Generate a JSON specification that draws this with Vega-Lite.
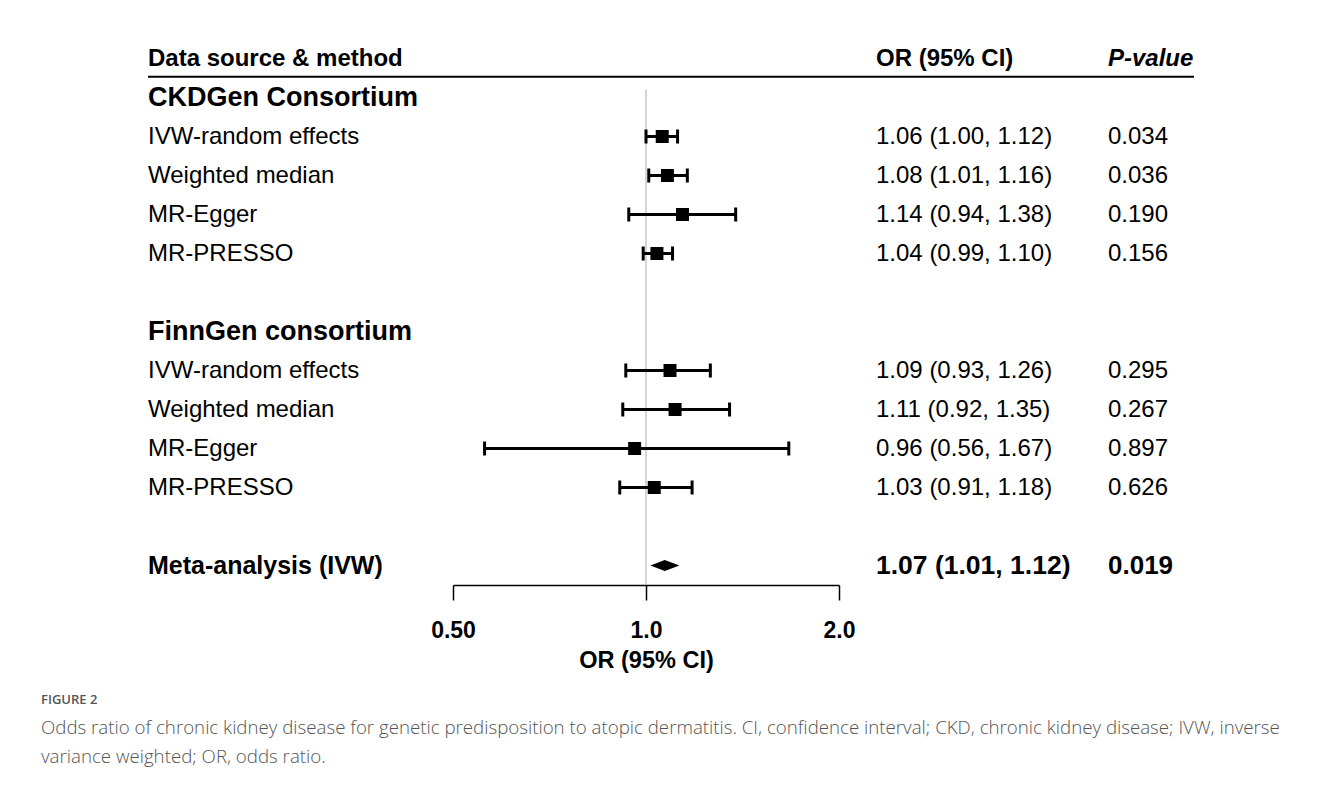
{
  "$schema": "https://vega.github.io/schema/vega-lite/v6.json",
  "padding": {"left": 41, "top": 39, "right": 0, "bottom": 0},
  "background": "white",
  "bounds": "flush",
  "spacing": 0,
  "datasets": {
    "rows": [
      {"row": 0, "kind": "header", "label": "Data source & method", "orText": "OR (95% CI)", "p": "P-value"},
      {"row": 1, "kind": "group", "label": "CKDGen Consortium"},
      {"row": 2, "kind": "item", "label": "IVW-random effects", "or": 1.06, "lo": 1.00, "hi": 1.12, "orText": "1.06 (1.00, 1.12)", "p": "0.034"},
      {"row": 3, "kind": "item", "label": "Weighted median", "or": 1.08, "lo": 1.01, "hi": 1.16, "orText": "1.08 (1.01, 1.16)", "p": "0.036"},
      {"row": 4, "kind": "item", "label": "MR-Egger", "or": 1.14, "lo": 0.94, "hi": 1.38, "orText": "1.14 (0.94, 1.38)", "p": "0.190"},
      {"row": 5, "kind": "item", "label": "MR-PRESSO", "or": 1.04, "lo": 0.99, "hi": 1.10, "orText": "1.04 (0.99, 1.10)", "p": "0.156"},
      {"row": 7, "kind": "group", "label": "FinnGen consortium"},
      {"row": 8, "kind": "item", "label": "IVW-random effects", "or": 1.09, "lo": 0.93, "hi": 1.26, "orText": "1.09 (0.93, 1.26)", "p": "0.295"},
      {"row": 9, "kind": "item", "label": "Weighted median", "or": 1.11, "lo": 0.92, "hi": 1.35, "orText": "1.11 (0.92, 1.35)", "p": "0.267"},
      {"row": 10, "kind": "item", "label": "MR-Egger", "or": 0.96, "lo": 0.56, "hi": 1.67, "orText": "0.96 (0.56, 1.67)", "p": "0.897"},
      {"row": 11, "kind": "item", "label": "MR-PRESSO", "or": 1.03, "lo": 0.91, "hi": 1.18, "orText": "1.03 (0.91, 1.18)", "p": "0.626"},
      {"row": 13, "kind": "meta", "label": "Meta-analysis (IVW)", "or": 1.07, "lo": 1.01, "hi": 1.12, "orText": "1.07 (1.01, 1.12)", "p": "0.019"}
    ]
  },
  "data": {"name": "rows"},
  "title": {
    "text": "FIGURE 2",
    "subtitle": [
      "Odds ratio of chronic kidney disease for genetic predisposition to atopic dermatitis. CI, confidence interval; CKD, chronic kidney disease; IVW, inverse",
      "variance weighted; OR, odds ratio."
    ],
    "orient": "bottom",
    "anchor": "start",
    "frame": "bounds",
    "dx": -106,
    "offset": 22,
    "font": "Liberation Sans Narrow, Open Sans",
    "fontSize": 13,
    "fontWeight": 600,
    "color": "#555555",
    "subtitleFont": "Open Sans",
    "subtitleFontSize": 18.7,
    "subtitleFontWeight": 300,
    "subtitleColor": "#555555",
    "subtitleLineHeight": 29,
    "subtitlePadding": 12
  },
  "hconcat": [
    {
      "width": 305,
      "height": 546,
      "layer": [
        {
          "transform": [{"filter": "datum.kind === 'header'"}],
          "mark": {"type": "rule", "color": "#000000", "strokeWidth": 2},
          "encoding": {"y": {"datum": 0.47, "type": "quantitative", "scale": {"domain": [-0.5, 13.5], "reverse": true, "nice": false, "zero": false}, "axis": null}}
        },
        {
          "transform": [{"filter": "datum.kind === 'header'"}],
          "mark": {"type": "text", "x": 0, "align": "left", "baseline": "middle", "font": "Liberation Sans", "fontWeight": "bold", "fontSize": 24, "color": "#000000"},
          "encoding": {"y": {"field": "row", "type": "quantitative", "axis": null}, "text": {"field": "label"}}
        },
        {
          "transform": [{"filter": "datum.kind === 'group'"}],
          "mark": {"type": "text", "x": 0, "align": "left", "baseline": "middle", "font": "Liberation Sans", "fontWeight": "bold", "fontSize": 27, "color": "#000000"},
          "encoding": {"y": {"field": "row", "type": "quantitative", "axis": null}, "text": {"field": "label"}}
        },
        {
          "transform": [{"filter": "datum.kind === 'item'"}],
          "mark": {"type": "text", "x": 0, "align": "left", "baseline": "middle", "font": "Liberation Sans", "fontSize": 24, "color": "#000000"},
          "encoding": {"y": {"field": "row", "type": "quantitative", "axis": null}, "text": {"field": "label"}}
        },
        {
          "transform": [{"filter": "datum.kind === 'meta'"}],
          "mark": {"type": "text", "x": 0, "align": "left", "baseline": "middle", "font": "Liberation Sans", "fontWeight": "bold", "fontSize": 25, "color": "#000000"},
          "encoding": {"y": {"field": "row", "type": "quantitative", "axis": null}, "text": {"field": "label"}}
        }
      ]
    },
    {
      "width": 386,
      "height": 546,
      "layer": [
        {
          "transform": [{"filter": "datum.kind === 'header'"}],
          "mark": {"type": "rule", "color": "#000000", "strokeWidth": 2},
          "encoding": {"y": {"datum": 0.47, "type": "quantitative", "scale": {"domain": [-0.5, 13.5], "reverse": true, "nice": false, "zero": false}, "axis": null}}
        },
        {
          "transform": [{"filter": "datum.kind === 'header'"}],
          "mark": {"type": "rule", "color": "#aaaaaa", "strokeWidth": 1},
          "encoding": {
            "x": {"datum": 1, "type": "quantitative",
              "scale": {"type": "log", "domain": [0.5, 2], "nice": false, "zero": false},
              "axis": {"values": [0.5, 1, 2], "labelExpr": "datum.value == 0.5 ? '0.50' : format(datum.value, '.1f')", "title": "OR (95% CI)", "grid": false, "domainColor": "#000000", "domainWidth": 1.5, "tickColor": "#000000", "tickWidth": 1.5, "tickSize": 15, "labelFont": "Liberation Sans", "labelFontWeight": "bold", "labelFontSize": 23, "labelColor": "#000000", "labelPadding": 19, "labelFlush": false, "labelOverlap": false, "titleFont": "Liberation Sans", "titleFontWeight": "bold", "titleFontSize": 23.5, "titleColor": "#000000", "titlePadding": 6}},
            "y": {"datum": 0.8, "type": "quantitative", "axis": null},
            "y2": {"datum": 13.5}
          }
        },
        {
          "transform": [{"filter": "datum.kind === 'item'"}],
          "mark": {"type": "rule", "color": "#000000", "strokeWidth": 3},
          "encoding": {
            "x": {"field": "lo", "type": "quantitative", "title": "OR (95% CI)"},
            "x2": {"field": "hi"},
            "y": {"field": "row", "type": "quantitative", "axis": null}
          }
        },
        {
          "transform": [{"filter": "datum.kind === 'item'"}],
          "mark": {"type": "tick", "orient": "vertical", "color": "#000000", "size": 14, "thickness": 3, "opacity": 1},
          "encoding": {
            "x": {"field": "lo", "type": "quantitative", "title": "OR (95% CI)"},
            "y": {"field": "row", "type": "quantitative", "axis": null}
          }
        },
        {
          "transform": [{"filter": "datum.kind === 'item'"}],
          "mark": {"type": "tick", "orient": "vertical", "color": "#000000", "size": 14, "thickness": 3, "opacity": 1},
          "encoding": {
            "x": {"field": "hi", "type": "quantitative", "title": "OR (95% CI)"},
            "y": {"field": "row", "type": "quantitative", "axis": null}
          }
        },
        {
          "transform": [{"filter": "datum.kind === 'item'"}],
          "mark": {"type": "point", "shape": "square", "filled": true, "color": "#000000", "size": 169, "opacity": 1},
          "encoding": {
            "x": {"field": "or", "type": "quantitative", "title": "OR (95% CI)"},
            "y": {"field": "row", "type": "quantitative", "axis": null}
          }
        },
        {
          "transform": [{"filter": "datum.kind === 'meta'"}],
          "mark": {"type": "point", "shape": "M-1,0L0,-0.38L1,0L0,0.38Z", "filled": true, "color": "#000000", "size": 841, "opacity": 1},
          "encoding": {
            "x": {"field": "or", "type": "quantitative", "title": "OR (95% CI)"},
            "y": {"field": "row", "type": "quantitative", "axis": null}
          }
        }
      ]
    },
    {
      "width": 269,
      "height": 546,
      "layer": [
        {
          "transform": [{"filter": "datum.kind === 'header'"}],
          "mark": {"type": "rule", "color": "#000000", "strokeWidth": 2},
          "encoding": {"y": {"datum": 0.47, "type": "quantitative", "scale": {"domain": [-0.5, 13.5], "reverse": true, "nice": false, "zero": false}, "axis": null}}
        },
        {
          "transform": [{"filter": "datum.kind === 'header'"}],
          "mark": {"type": "text", "x": 0, "dx": 37, "align": "left", "baseline": "middle", "font": "Liberation Sans", "fontWeight": "bold", "fontSize": 24, "color": "#000000"},
          "encoding": {"y": {"field": "row", "type": "quantitative", "axis": null}, "text": {"field": "orText"}}
        },
        {
          "transform": [{"filter": "datum.kind === 'item'"}],
          "mark": {"type": "text", "x": 0, "dx": 37, "align": "left", "baseline": "middle", "font": "Liberation Sans", "fontSize": 24, "color": "#000000"},
          "encoding": {"y": {"field": "row", "type": "quantitative", "axis": null}, "text": {"field": "orText"}}
        },
        {
          "transform": [{"filter": "datum.kind === 'meta'"}],
          "mark": {"type": "text", "x": 0, "dx": 37, "align": "left", "baseline": "middle", "font": "Liberation Sans", "fontWeight": "bold", "fontSize": 26.5, "color": "#000000"},
          "encoding": {"y": {"field": "row", "type": "quantitative", "axis": null}, "text": {"field": "orText"}}
        }
      ]
    },
    {
      "width": 86,
      "height": 546,
      "layer": [
        {
          "transform": [{"filter": "datum.kind === 'header'"}],
          "mark": {"type": "rule", "color": "#000000", "strokeWidth": 2},
          "encoding": {"y": {"datum": 0.47, "type": "quantitative", "scale": {"domain": [-0.5, 13.5], "reverse": true, "nice": false, "zero": false}, "axis": null}}
        },
        {
          "transform": [{"filter": "datum.kind === 'header'"}],
          "mark": {"type": "text", "x": 0, "align": "left", "baseline": "middle", "font": "Liberation Sans", "fontWeight": "bold", "fontStyle": "italic", "fontSize": 24, "color": "#000000"},
          "encoding": {"y": {"field": "row", "type": "quantitative", "axis": null}, "text": {"field": "p"}}
        },
        {
          "transform": [{"filter": "datum.kind === 'item'"}],
          "mark": {"type": "text", "x": 0, "align": "left", "baseline": "middle", "font": "Liberation Sans", "fontSize": 24, "color": "#000000"},
          "encoding": {"y": {"field": "row", "type": "quantitative", "axis": null}, "text": {"field": "p"}}
        },
        {
          "transform": [{"filter": "datum.kind === 'meta'"}],
          "mark": {"type": "text", "x": 0, "align": "left", "baseline": "middle", "font": "Liberation Sans", "fontWeight": "bold", "fontSize": 26, "color": "#000000"},
          "encoding": {"y": {"field": "row", "type": "quantitative", "axis": null}, "text": {"field": "p"}}
        }
      ]
    }
  ],
  "config": {
    "view": {"stroke": null},
    "concat": {"spacing": 0}
  }
}
